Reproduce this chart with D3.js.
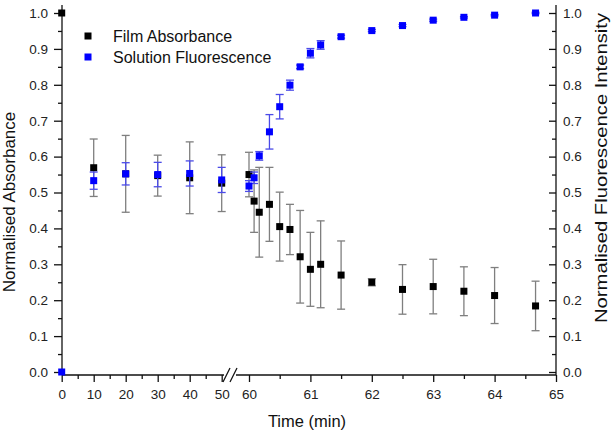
<!DOCTYPE html>
<html>
<head>
<meta charset="utf-8">
<script src="https://cdn.jsdelivr.net/npm/d3@7"></script>
<style>
  body { margin: 0; background: #fff; }
  svg { display: block; font-family: "Liberation Sans", Arial, sans-serif; }
</style>
</head>
<body>
<script>
// time points (min); 0-50 on the first segment, 60-65 on the second
const time = [0, 10, 20, 30, 40, 50, 60, 60.083, 60.167, 60.333, 60.5, 60.667, 60.833, 61, 61.167, 61.5, 62, 62.5, 63, 63.5, 64, 64.667]
const absorbance = [1.0, 0.569, 0.552, 0.547, 0.541, 0.526, 0.550, 0.476, 0.445, 0.467, 0.405, 0.397, 0.321, 0.286, 0.300, 0.270, 0.250, 0.230, 0.238, 0.225, 0.213, 0.184]
const absorbanceErr = [0, 0.080, 0.107, 0.057, 0.100, 0.079, 0.062, 0.087, 0.125, 0.103, 0.096, 0.070, 0.129, 0.103, 0.121, 0.095, 0.010, 0.069, 0.076, 0.068, 0.078, 0.069]
const fluorescence = [0.0, 0.533, 0.552, 0.550, 0.553, 0.535, 0.518, 0.541, 0.602, 0.669, 0.739, 0.799, 0.850, 0.888, 0.911, 0.934, 0.951, 0.965, 0.980, 0.988, 0.994, 1.0]
const fluorescenceErr = [0, 0.024, 0.031, 0.034, 0.035, 0.035, 0.015, 0.016, 0.012, 0.048, 0.034, 0.014, 0.005, 0.013, 0.012, 0.004, 0.003, 0.003, 0.003, 0.002, 0.002, 0.002]

const seriesNames = ['Film Absorbance', 'Solution Fluorescence']
const xTicksA = [0, 10, 20, 30, 40, 50]
const xTicksB = [60, 61, 62, 63, 64, 65]
const yTicks = d3.range(0, 1.0001, 0.1)

const WIDTH = 612
const HEIGHT = 436
const AXIS_Y = 375
const LEFT = 62
const RIGHT = 556
const SQ = 7
const CAP = 8

const svg = d3.select('body').append('svg')
  .attr('width', WIDTH)
  .attr('height', HEIGHT)

// broken x axis: two linear pieces
const xA = d3.scaleLinear().domain([0, 50]).range([61.7, 221.7])
const xB = d3.scaleLinear().domain([60, 65]).range([249, RIGHT])
const x = t => (t <= 55 ? xA(t) : xB(t))

const y = d3.scaleLinear().domain([0, 1]).range([372, 13])

const rows = time.map((t, i) => ({
  t,
  a: absorbance[i], ae: absorbanceErr[i],
  f: fluorescence[i], fe: fluorescenceErr[i],
}))

// ---- axes ----
const styleAxis = g => {
  g.select('.domain').remove()
  g.selectAll('line').attr('stroke', '#111').attr('stroke-width', 1.3)
  g.selectAll('text').attr('fill', '#222').style('font-size', '13.5px')
  g.attr('font-family', null).attr('font-size', null)
}

// left y axis
svg.append('g')
  .attr('transform', `translate(${LEFT},0)`)
  .call(d3.axisLeft(y).tickValues(yTicks).tickFormat(d3.format('.1f')).tickSize(8).tickPadding(6))
  .call(styleAxis)
svg.append('g')
  .attr('transform', `translate(${LEFT},0)`)
  .call(d3.axisLeft(y).tickValues(d3.range(0.05, 1, 0.1)).tickFormat('').tickSize(4))
  .call(styleAxis)

// right y axis (ticks point inward)
svg.append('g')
  .attr('transform', `translate(${RIGHT},0)`)
  .call(d3.axisRight(y).tickValues(yTicks).tickFormat(d3.format('.1f')).tickSize(-7).tickPadding(7))
  .call(styleAxis)
svg.append('g')
  .attr('transform', `translate(${RIGHT},0)`)
  .call(d3.axisRight(y).tickValues(d3.range(0.05, 1, 0.1)).tickFormat('').tickSize(-4))
  .call(styleAxis)

// bottom axis pieces
svg.append('g')
  .attr('transform', `translate(0,${AXIS_Y})`)
  .call(d3.axisBottom(xA).tickValues(xTicksA).tickFormat(d3.format('d')).tickSize(7).tickPadding(7))
  .call(styleAxis)
svg.append('g')
  .attr('transform', `translate(0,${AXIS_Y})`)
  .call(d3.axisBottom(xA).tickValues(d3.range(5, 50, 10)).tickFormat('').tickSize(4))
  .call(styleAxis)
svg.append('g')
  .attr('transform', `translate(0,${AXIS_Y})`)
  .call(d3.axisBottom(xB).tickValues(xTicksB).tickFormat(d3.format('d')).tickSize(7).tickPadding(7))
  .call(styleAxis)
svg.append('g')
  .attr('transform', `translate(0,${AXIS_Y})`)
  .call(d3.axisBottom(xB).tickValues(d3.range(60.5, 65, 1)).tickFormat('').tickSize(4))
  .call(styleAxis)

// axis lines
const axisLines = svg.append('g').attr('stroke', '#111').attr('stroke-width', 1.3).attr('fill', 'none')
axisLines.append('line').attr('x1', LEFT).attr('x2', LEFT).attr('y1', AXIS_Y).attr('y2', 5)
axisLines.append('line').attr('x1', RIGHT).attr('x2', RIGHT).attr('y1', AXIS_Y).attr('y2', 5)
axisLines.append('line').attr('x1', LEFT).attr('x2', 224).attr('y1', AXIS_Y).attr('y2', AXIS_Y)
axisLines.append('line').attr('x1', 236).attr('x2', RIGHT).attr('y1', AXIS_Y).attr('y2', AXIS_Y)
// break marks
axisLines.append('line').attr('x1', 223).attr('y1', 382).attr('x2', 230).attr('y2', 368)
axisLines.append('line').attr('x1', 230).attr('y1', 382).attr('x2', 237).attr('y2', 368)

// ---- error bars ----
const drawErr = (key, errKey, color) => {
  const g = svg.append('g').attr('stroke', color).attr('stroke-width', 1.3)
  const bars = g.selectAll('g').data(rows.filter(d => d[errKey] > 0)).join('g')
  bars.append('line')
    .attr('x1', d => x(d.t)).attr('x2', d => x(d.t))
    .attr('y1', d => y(d[key] + d[errKey])).attr('y2', d => y(d[key] - d[errKey]))
  bars.append('line')
    .attr('x1', d => x(d.t) - CAP / 2).attr('x2', d => x(d.t) + CAP / 2)
    .attr('y1', d => y(d[key] + d[errKey])).attr('y2', d => y(d[key] + d[errKey]))
  bars.append('line')
    .attr('x1', d => x(d.t) - CAP / 2).attr('x2', d => x(d.t) + CAP / 2)
    .attr('y1', d => y(d[key] - d[errKey])).attr('y2', d => y(d[key] - d[errKey]))
}

const drawSquares = (key, color) => {
  svg.append('g').selectAll('rect')
    .data(rows)
    .join('rect')
    .attr('x', d => x(d.t) - SQ / 2)
    .attr('y', d => y(d[key]) - SQ / 2)
    .attr('width', SQ)
    .attr('height', SQ)
    .attr('fill', color)
}

drawErr('a', 'ae', '#7f7f7f')
drawSquares('a', '#000')
drawErr('f', 'fe', '#4b4be8')
drawSquares('f', '#0000ff')

// ---- legend ----
const legend = svg.append('g')
legend.selectAll('rect')
  .data(seriesNames)
  .join('rect')
  .attr('x', 88 - SQ / 2)
  .attr('y', (d, i) => 36 + i * 21 - SQ / 2)
  .attr('width', SQ)
  .attr('height', SQ)
  .attr('fill', (d, i) => (i === 0 ? '#000' : '#0000ff'))
legend.selectAll('text')
  .data(seriesNames)
  .join('text')
  .attr('x', 113)
  .attr('y', (d, i) => 36 + i * 21)
  .attr('dy', '0.36em')
  .style('font-size', '16px')
  .attr('fill', '#111')
  .text(d => d)

// ---- titles ----
svg.append('text')
  .attr('x', 307)
  .attr('y', 427)
  .attr('text-anchor', 'middle')
  .style('font-size', '16.5px')
  .attr('fill', '#111')
  .text('Time (min)')

svg.append('text')
  .attr('transform', 'translate(15,202) rotate(-90)')
  .attr('text-anchor', 'middle')
  .style('font-size', '17px')
  .attr('fill', '#111')
  .text('Normalised Absorbance')

svg.append('text')
  .attr('transform', 'translate(607,168) rotate(-90)')
  .attr('text-anchor', 'middle')
  .attr('textLength', 310)
  .attr('lengthAdjust', 'spacingAndGlyphs')
  .style('font-size', '16px')
  .attr('fill', '#111')
  .text('Normalised Fluorescence Intensity')
</script>
</body>
</html>
